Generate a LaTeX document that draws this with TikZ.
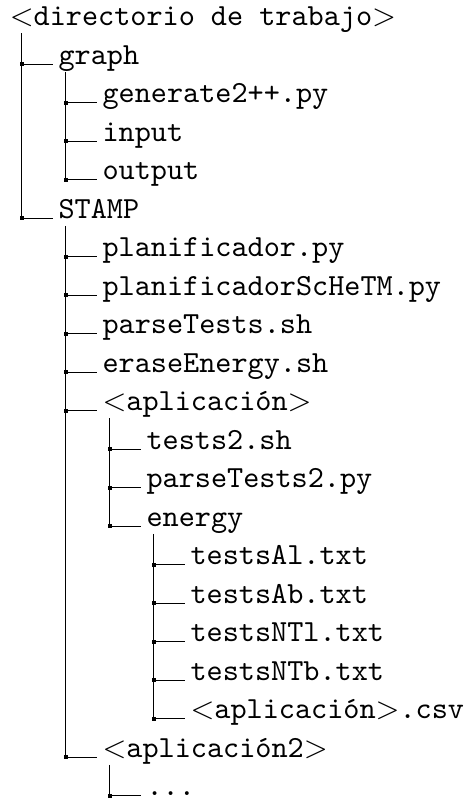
\documentclass[tikz,border=0pt]{standalone}
\begin{document}
\begin{tikzpicture}[x=0.3257pt,y=-0.3257pt,
  entry/.style={anchor=base west, inner sep=0pt, font=\fontsize{10}{12}\selectfont\ttfamily},
  joint/.style={rectangle, fill=black, inner sep=0pt, minimum size=1.35pt},
  branch/.style={line width=0.4pt, black},
  twig/.style={branch, shorten >=1.6pt}]
\useasboundingbox (0,0) rectangle (470,800);

% entries of the tree
\node[entry] (root)   at (9.2,25.8)  {$<$directorio de trabajo$>$};
\node[entry] (graph)  at (58,64.3)   {graph};
\node[entry] (gen)    at (102,102.8) {generate2++.py};
\node[entry] (input)  at (102,141.3) {input};
\node[entry] (output) at (102,179.8) {output};
\node[entry] (stamp)  at (58,218.3)  {STAMP};
\node[entry] (plan)   at (102,256.8) {planificador.py};
\node[entry] (plansc) at (102,295.3) {planificadorScHeTM.py};
\node[entry] (parse)  at (102,333.8) {parseTests.sh};
\node[entry] (erase)  at (102,372.3) {eraseEnergy.sh};
\node[entry] (app)    at (102,410.8) {$<$aplicación$>$};
\node[entry] (tests2) at (146,449.3) {tests2.sh};
\node[entry] (parse2) at (146,487.8) {parseTests2.py};
\node[entry] (energy) at (146,526.3) {energy};
\node[entry] (tal)    at (190,564.8) {testsAl.txt};
\node[entry] (tab)    at (190,603.3) {testsAb.txt};
\node[entry] (tntl)   at (190,641.8) {testsNTl.txt};
\node[entry] (tntb)   at (190,680.3) {testsNTb.txt};
\node[entry] (csv)    at (190,718.8) {$<$aplicación$>$.csv};
\node[entry] (app2)   at (102,757.3) {$<$aplicación2$>$};
\node[entry] (dots)   at (146,795.8) {...};

% tops of the vertical branches
\coordinate (t-root)   at (21.7,33.3);
\coordinate (t-graph)  at (65.7,71.8);
\coordinate (t-stamp)  at (65.7,225.8);
\coordinate (t-app)    at (109.7,418.3);
\coordinate (t-energy) at (153.7,533.8);
\coordinate (t-app2)   at (109.7,764.8);

% junction marks
\node[joint] (j-graph)  at (21.7,64.3)   {};
\node[joint] (j-stamp)  at (21.7,218.3)  {};
\node[joint] (j-gen)    at (65.7,102.8)  {};
\node[joint] (j-input)  at (65.7,141.3)  {};
\node[joint] (j-output) at (65.7,179.8)  {};
\node[joint] (j-plan)   at (65.7,256.8)  {};
\node[joint] (j-plansc) at (65.7,295.3)  {};
\node[joint] (j-parse)  at (65.7,333.8)  {};
\node[joint] (j-erase)  at (65.7,372.3)  {};
\node[joint] (j-app)    at (65.7,410.8)  {};
\node[joint] (j-app2)   at (65.7,757.3)  {};
\node[joint] (j-tests2) at (109.7,449.3) {};
\node[joint] (j-parse2) at (109.7,487.8) {};
\node[joint] (j-energy) at (109.7,526.3) {};
\node[joint] (j-tal)    at (153.7,564.8) {};
\node[joint] (j-tab)    at (153.7,603.3) {};
\node[joint] (j-tntl)   at (153.7,641.8) {};
\node[joint] (j-tntb)   at (153.7,680.3) {};
\node[joint] (j-csv)    at (153.7,718.8) {};
\node[joint] (j-dots)   at (109.7,795.8) {};

% vertical branches
\draw[branch] (t-root)   -- (j-stamp.center);
\draw[branch] (t-graph)  -- (j-output.center);
\draw[branch] (t-stamp)  -- (j-app2.center);
\draw[branch] (t-app)    -- (j-energy.center);
\draw[branch] (t-energy) -- (j-csv.center);
\draw[branch] (t-app2)   -- (j-dots.center);

% horizontal twigs to the entries
\foreach \e in {graph,stamp,gen,input,output,plan,plansc,parse,erase,app,app2,
                tests2,parse2,energy,tal,tab,tntl,tntb,csv,dots}
  \draw[twig] (j-\e.center) -- (\e.base west);
\end{tikzpicture}
\end{document}
